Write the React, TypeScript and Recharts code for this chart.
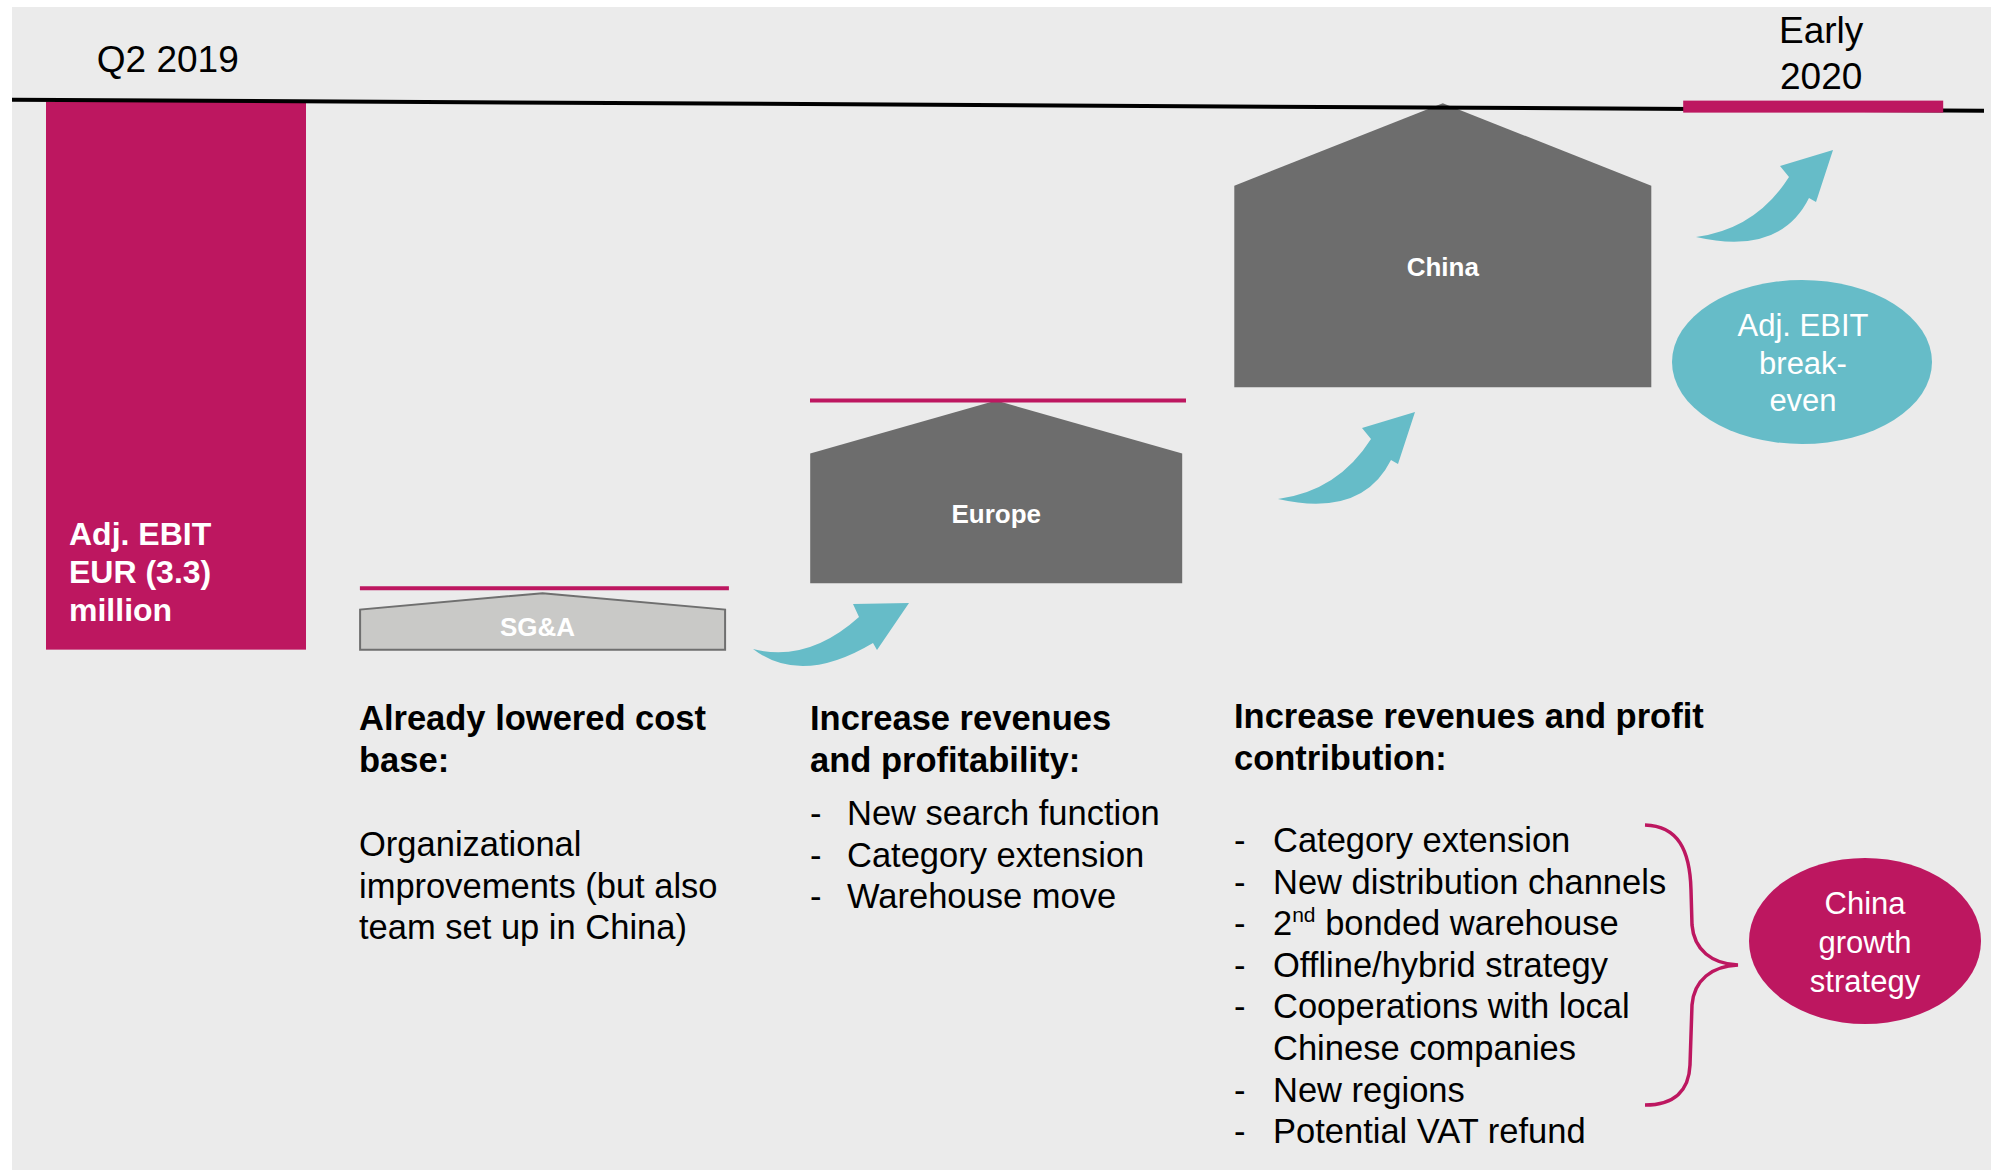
import React from 'react';
import { ComposedChart, Bar, Scatter, XAxis, YAxis, ReferenceLine } from 'recharts';

// stages of the bridge, EUR million (adj. EBIT)
const stages = ['Q2 2019', 'SG&A', 'Europe', 'China', 'Early 2020'];
const stageFrom = [-3.3, -3.3, -2.9, -1.72, null];
const stageTo = [0, -2.96, -1.8, -0.01, null];
const stageMark = [null, -2.93, -1.8, null, -0.03];

const startLabel = ['Adj. EBIT', 'EUR (3.3)', 'million'];
const endNote = ['Adj. EBIT', 'break-', 'even'];
const chinaNote = ['China', 'growth', 'strategy'];

const col1Title = ['Already lowered cost', 'base:'];
const col1Body = ['Organizational', 'improvements (but also', 'team set up in China)'];
const col2Title = ['Increase revenues', 'and profitability:'];
const col2Items = ['New search function', 'Category extension', 'Warehouse move'];
const col3Title = ['Increase revenues and profit', 'contribution:'];
const col3Items = [
  ['Category extension'],
  ['New distribution channels'],
  ['2nd bonded warehouse'],
  ['Offline/hybrid strategy'],
  ['Cooperations with local', 'Chinese companies'],
  ['New regions'],
  ['Potential VAT refund'],
];

const data = stages.map((stage, i) => ({
  stage,
  span: stageFrom[i] === null ? null : [stageFrom[i], stageTo[i]],
  mark: stageMark[i],
}));

const FONT = '"Liberation Sans", Arial, sans-serif';
const MAGENTA = '#BD1760';
const TEAL = '#66BCC8';
const DARK = '#6D6D6D';
const LINE = 41.6;

// drawn width and horizontal nudge of each stage shape
const SHAPE_W: Record<string, number> = { 'Q2 2019': 260, 'SG&A': 365, Europe: 372, China: 417, 'Early 2020': 260 };
const SHIFT: Record<string, number> = { 'Q2 2019': 17, 'SG&A': -34, Europe: 2, China: 31, 'Early 2020': -16 };
const LABEL_AT: Record<string, number> = { 'SG&A': 0.6, Europe: 0.62, China: 0.575 };

const StageShape = (props: any) => {
  const { x, y, width, height, payload } = props;
  if (!payload || payload.span == null) return <g />;
  const stage = payload.stage;
  const cx = x + width / 2 + SHIFT[stage];
  const w = SHAPE_W[stage];
  const top = Math.min(y, y + height);
  const bottom = Math.max(y, y + height);
  const left = cx - w / 2;
  const right = cx + w / 2;
  if (stage === 'Q2 2019') {
    return (
      <g>
        <rect x={left} y={top} width={w} height={bottom - top} fill={MAGENTA} />
        <text x={left + 23} y={bottom - 105} fill='#fff' fontWeight='bold' fontSize={32} fontFamily={FONT}>
          {startLabel.map((t, i) => (
            <tspan key={t} x={left + 23} dy={i === 0 ? 0 : 38}>
              {t}
            </tspan>
          ))}
        </text>
      </g>
    );
  }
  const h = bottom - top;
  const eave = top + h * 0.29;
  const light = stage === 'SG&A';
  return (
    <g>
      <polygon
        points={`${left},${bottom} ${left},${eave} ${cx},${top} ${right},${eave} ${right},${bottom}`}
        fill={light ? '#C9C9C7' : DARK}
        stroke={light ? '#6F6F6F' : 'none'}
        strokeWidth={2}
      />
      <text
        x={cx - (light ? 5 : 0)}
        y={top + h * LABEL_AT[stage] + 9}
        textAnchor='middle'
        fill='#fff'
        fontWeight='bold'
        fontSize={26}
        fontFamily={FONT}>
        {stage}
      </text>
    </g>
  );
};

const MarkShape = (props: any) => {
  const { cx, cy, payload } = props;
  if (!payload || payload.mark == null) return <g />;
  const stage = payload.stage;
  const mid = cx + SHIFT[stage];
  const w = SHAPE_W[stage];
  if (stage === 'Early 2020') {
    return <rect x={mid - w / 2} y={cy - 6} width={w} height={12} fill={MAGENTA} />;
  }
  return <line x1={mid - w / 2} x2={mid + w / 2 + 4} y1={cy} y2={cy} stroke={MAGENTA} strokeWidth={4} />;
};

const Baseline = (props: any) => {
  const { y1 } = props;
  return <line x1={12} y1={y1 - 2} x2={1984} y2={y1 + 9} stroke='#000' strokeWidth={4} />;
};

const StageTick = (props: any) => {
  const { x, payload } = props;
  const v = payload.value;
  if (v === 'Q2 2019') {
    return (
      <text x={x + SHIFT[v] - 8} y={72} textAnchor='middle' fontSize={37} fontFamily={FONT} fill='#000'>
        {v}
      </text>
    );
  }
  if (v === 'Early 2020') {
    const cx = x + SHIFT[v] + 8;
    return (
      <text textAnchor='middle' fontSize={37} fontFamily={FONT} fill='#000'>
        {v.split(' ').map((t: string, i: number) => (
          <tspan key={t} x={cx} y={43 + i * 46}>
            {t}
          </tspan>
        ))}
      </text>
    );
  }
  return <g />;
};

// curved arrow outlines, relative to the tail point
const flatArrow = 'M0,0 Q55,14 106,-32 L100,-45 L156,-46 L124,1 L120,-6 Q48,37 0,0 Z';
const steepArrow = 'M0,0 Q60,-8 93,-60 L84,-71 L137,-87 L120,-35 L113,-39 Q84,19 0,0 Z';

const lineText = (t: string) => {
  if (t.startsWith('2nd')) {
    return (
      <>
        2
        <tspan dy={-13} fontSize={21}>
          nd
        </tspan>
        <tspan dy={13}>{t.slice(3)}</tspan>
      </>
    );
  }
  return t;
};

const Overlay = () => {
  let row = 0;
  return (
    <svg width={1991} height={1170} style={{ position: 'absolute', left: 0, top: 0 }} fontFamily={FONT}>
      <path d={flatArrow} transform='translate(753,649)' fill={TEAL} />
      <path d={steepArrow} transform='translate(1278,499)' fill={TEAL} />
      <path d={steepArrow} transform='translate(1696,237)' fill={TEAL} />

      <ellipse cx={1802} cy={362} rx={130} ry={82} fill={TEAL} />
      {endNote.map((t, i) => (
        <text key={t} x={1803} y={336 + i * 37.5} textAnchor='middle' fontSize={31} fill='#fff'>
          {t}
        </text>
      ))}

      <ellipse cx={1865} cy={941} rx={116} ry={83} fill={MAGENTA} />
      {chinaNote.map((t, i) => (
        <text key={t} x={1865} y={914 + i * 39} textAnchor='middle' fontSize={31} fill='#fff'>
          {t}
        </text>
      ))}

      <path
        d='M1645,825 C1678,826 1690,850 1691,890 L1692,925 C1694,950 1712,964 1738,965 C1712,966 1694,980 1692,1005 L1690,1065 C1689,1090 1675,1105 1645,1105'
        fill='none'
        stroke={MAGENTA}
        strokeWidth={3.5}
      />

      <g fontSize={34.5} fill='#000'>
        {col1Title.map((t, i) => (
          <text key={t} x={359} y={730 + i * LINE} fontWeight='bold'>
            {t}
          </text>
        ))}
        {col1Body.map((t, i) => (
          <text key={t} x={359} y={856 + i * LINE}>
            {t}
          </text>
        ))}

        {col2Title.map((t, i) => (
          <text key={t} x={810} y={730 + i * LINE} fontWeight='bold'>
            {t}
          </text>
        ))}
        {col2Items.map((t, i) => (
          <g key={t}>
            <text x={810} y={825 + i * LINE}>
              -
            </text>
            <text x={847} y={825 + i * LINE}>
              {t}
            </text>
          </g>
        ))}

        {col3Title.map((t, i) => (
          <text key={t} x={1234} y={728 + i * LINE} fontWeight='bold'>
            {t}
          </text>
        ))}
        {col3Items.map((item) => {
          const start = row;
          row += item.length;
          return (
            <g key={item[0]}>
              <text x={1234} y={852 + start * LINE}>
                -
              </text>
              {item.map((t, j) => (
                <text key={t} x={1273} y={852 + (start + j) * LINE}>
                  {lineText(t)}
                </text>
              ))}
            </g>
          );
        })}
      </g>
    </svg>
  );
};

export default function App() {
  return (
    <div
      style={{
        position: 'absolute',
        left: 0,
        top: 0,
        width: 1991,
        height: 1170,
        background: '#fff',
        fontFamily: FONT,
        overflow: 'hidden',
      }}>
      <div style={{ position: 'absolute', left: 12, top: 7, width: 1979, height: 1163, background: '#EBEBEB' }} />
      <div style={{ position: 'absolute', left: 0, top: 0 }}>
        <ComposedChart
          width={1991}
          height={1170}
          data={data}
          margin={{ top: -28, right: -47, bottom: 72, left: -50 }}>
          <XAxis
            dataKey='stage'
            orientation='top'
            height={30}
            axisLine={false}
            tickLine={false}
            interval={0}
            tick={StageTick}
          />
          <YAxis
            hide
            type='number'
            domain={[-6, 0.6]}
            allowDataOverflow
          />
          <Bar
            dataKey='span'
            barSize={100}
            shape={StageShape}
            isAnimationActive={false}
          />
          <ReferenceLine
            y={0}
            shape={Baseline}
          />
          <Scatter
            dataKey='mark'
            shape={MarkShape}
            isAnimationActive={false}
          />
        </ComposedChart>
      </div>
      <Overlay />
    </div>
  );
}
